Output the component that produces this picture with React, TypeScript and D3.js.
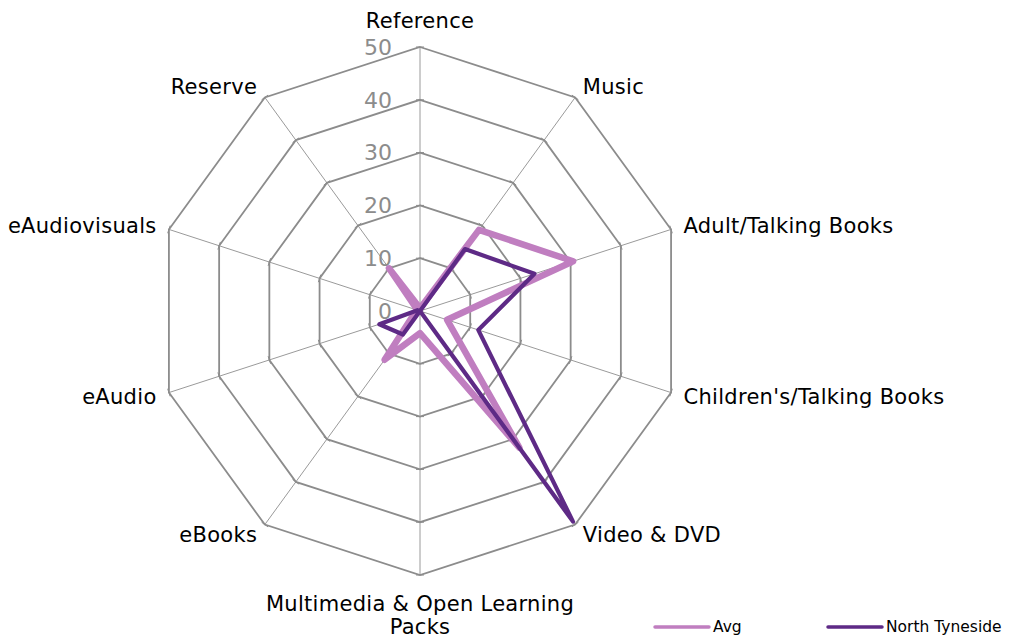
import React from "react";
import * as d3 from "d3";

const categories = [
  "Reference",
  "Music",
  "Adult/Talking Books",
  "Children's/Talking Books",
  "Video & DVD",
  "Multimedia & Open Learning Packs",
  "eBooks",
  "eAudio",
  "eAudiovisuals",
  "Reserve",
];
const avgValues = [0.5, 19, 30.5, 5.4, 32, 4.2, 11.4, 1, 0.5, 10];
const ntValues = [0, 14.5, 22.8, 11.6, 49.3, 0, 5.5, 8.1, 0.5, 0];
const ticks = [0, 10, 20, 30, 40, 50];
const seriesNames = ["Avg", "North Tyneside"];
const seriesColors = ["#C07EC0", "#5E2A86"];

const W = 1011, H = 641;
const cx = 420, cy = 311, R = 264;

export default function App() {
  const r = d3.scaleLinear().domain([0, 50]).range([0, R]);
  const n = categories.length;
  const ang = (i: number) => (i * 2 * Math.PI) / n;
  const pt = (i: number, v: number): [number, number] => [
    cx + r(v) * Math.sin(ang(i)),
    cy - r(v) * Math.cos(ang(i)),
  ];
  const lineGen = d3.line<[number, number]>().curve(d3.curveLinearClosed);
  const ringPath = (v: number) => lineGen(categories.map((_, i) => pt(i, v))) as string;
  const series = [avgValues, ntValues];
  const fs = 21;
  const ls = 0.3;

  return (
    <svg width={W} height={H} style={{ position: "absolute", left: 0, top: 0, background: "#fff" }}
      fontFamily="'DejaVu Sans', Verdana, sans-serif">
      {categories.map((_, i) => {
        const [x, y] = pt(i, 50);
        return <line key={"s" + i} x1={cx} y1={cy} x2={x} y2={y} stroke="#9a9a9a" strokeWidth={1} />;
      })}
      {ticks.filter((t) => t > 0).map((t) => (
        <path key={"r" + t} d={ringPath(t)} fill="none" stroke="#8c8c8c" strokeWidth={1.8} />
      ))}
      {categories.map((_, i) =>
        ticks.filter((t) => t > 0).map((t) => {
          const [x, y] = pt(i, t);
          const a = ang(i);
          const px = Math.cos(a) * 4, py = Math.sin(a) * 4;
          return <line key={"t" + i + "-" + t} x1={x - px} y1={y - py} x2={x + px} y2={y + py} stroke="#8c8c8c" strokeWidth={1} />;
        })
      )}
      {ticks.map((t) => (
        <text key={"tl" + t} x={cx - 28} y={cy - r(t)} dy="0.35em" textAnchor="end" fontSize={22} fill="#8c8c8c">
          {t}
        </text>
      ))}
      {series.map((vals, si) => (
        <path key={"p" + si} d={lineGen(vals.map((v, i) => pt(i, v))) as string} fill="none"
          stroke={seriesColors[si]} strokeWidth={si === 0 ? 6.5 : 4.2} strokeLinejoin="round" />
      ))}
      {categories.map((c, i) => {
        const a = ang(i);
        const s = Math.sin(a);
        const co = Math.cos(a);
        if (Math.abs(s) < 0.01) {
          if (co > 0) {
            return (
              <text key={"c" + i} x={cx} y={cy - R - 26} dy="0.35em" textAnchor="middle" fontSize={fs} letterSpacing={ls} fill="#000">{c}</text>
            );
          }
          return (
            <text key={"c" + i} x={cx} y={cy + R + 29} textAnchor="middle" fontSize={fs} letterSpacing={ls} fill="#000">
              <tspan x={cx} dy="0.35em">Multimedia &amp; Open Learning</tspan>
              <tspan x={cx} dy="1.1em">Packs</tspan>
            </text>
          );
        }
        const [x, y] = pt(i, 50 * (R + 13) / R);
        return (
          <text key={"c" + i} x={x} y={y} dy="0.35em" textAnchor={s > 0 ? "start" : "end"} fontSize={fs} letterSpacing={ls} fill="#000">{c}</text>
        );
      })}
      {seriesNames.map((nm, si) => {
        const x0 = si === 0 ? 655 : 828;
        return (
          <g key={"l" + si}>
            <line x1={x0} x2={x0 + 54} y1={627} y2={627} stroke={seriesColors[si]} strokeWidth={3.5} strokeLinecap="round" />
            <text x={x0 + 58} y={627} dy="0.35em" fontSize={15.5} fill="#000">{nm}</text>
          </g>
        );
      })}
    </svg>
  );
}
